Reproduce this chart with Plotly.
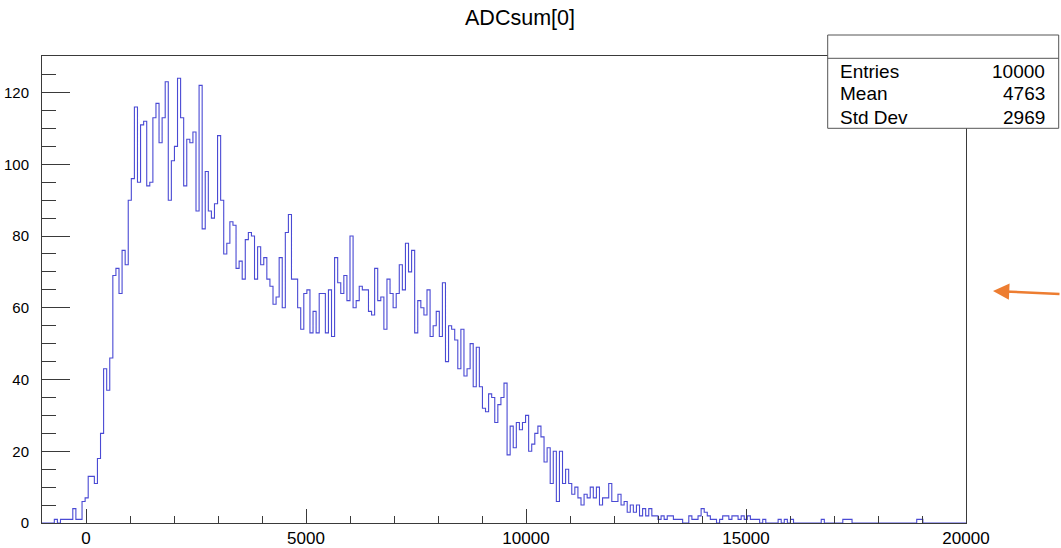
import plotly.graph_objects as go

# ---------------- data ----------------
title_text = "ADCsum[0]"
x_min, x_max, n_bins = -1000, 20000, 300
counts = [
    0, 0, 0, 0, 1, 0, 1, 1, 1, 1,            # 0-9
    4, 1, 1, 6, 7, 13, 13, 11, 18, 25,       # 10-19
    43, 37, 46, 69, 71, 64, 76, 72, 90, 96,  # 20-29
    116, 95, 111, 112, 94, 95, 113, 117, 106, 113,  # 30-39
    123, 90, 101, 105, 124, 113, 94, 107, 106, 109,  # 40-49
    87, 122, 82, 98, 87, 85, 89, 108, 90, 75,  # 50-59
    78, 84, 83, 71, 73, 68, 79, 81, 80, 68,  # 60-69
    77, 72, 74, 68, 66, 61, 63, 74, 60, 81,  # 70-79
    86, 68, 68, 60, 54, 64, 65, 53, 59, 53,  # 80-89
    64, 64, 53, 65, 52, 74, 67, 64, 69, 62,  # 90-99
    80, 60, 62, 66, 65, 65, 59, 58, 71, 62,  # 100-109
    63, 54, 68, 64, 60, 64, 72, 65, 78, 70,  # 110-119
    76, 53, 62, 60, 58, 65, 52, 55, 59, 52,  # 120-129
    67, 45, 55, 54, 51, 43, 54, 41, 43, 50,  # 130-139
    38, 49, 38, 32, 31, 36, 35, 28, 33, 35,  # 140-149
    39, 19, 27, 21, 28, 26, 28, 30, 20, 22,  # 150-159
    25, 27, 24, 17, 21, 11, 20, 6, 20, 11,   # 160-169
    15, 11, 8, 10, 7, 5, 8, 7, 10, 7,        # 170-179
    10, 5, 7, 7, 11, 6, 6, 8, 5, 6,          # 180-189
    3, 5, 3, 5, 2, 4, 2, 4, 2, 2,            # 190-199
    1, 2, 1, 2, 2, 1, 1, 1, 0, 0,            # 200-209
    2, 1, 1, 2, 4, 3, 2, 1, 1, 0,            # 210-219
    1, 2, 2, 1, 2, 2, 1, 2, 1, 2,            # 220-229
    1, 1, 1, 0, 1, 0, 0, 0, 0, 1,            # 230-239
    0, 1, 0, 1, 0, 0, 0, 0, 0, 0,            # 240-249
    0, 0, 0, 1, 0, 0, 0, 0, 0, 0,            # 250-259
    1, 1, 1, 0, 0, 0, 0, 0, 0, 0,            # 260-269
    0, 0, 0, 0, 0, 0, 0, 0, 0, 0,            # 270-279
    0, 0, 0, 0, 1, 1, 0, 0, 0, 0,            # 280-289
    0, 0, 0, 0, 0, 0, 0, 0, 0, 0,            # 290-299
]
stat_names = ["Entries", "Mean", "Std Dev"]
stat_values = ["10000", "4763", "2969"]
y_max = 130.2

# ---------------- figure ----------------
W, H = 1061, 548
ML, MR, MT, MB = 42, 95, 56, 25
PW, PH = W - ML - MR, H - MT - MB


def px(X):
    return (X - ML) / PW


def py(Y):
    return (H - MB - Y) / PH


bw = (x_max - x_min) / n_bins
edges = [x_min + i * bw for i in range(n_bins + 1)]
ys = counts + [counts[-1]]

FONT = "Liberation Sans, Arial, Helvetica, sans-serif"
AX = "#3a3a3a"

fig = go.Figure()
fig.add_trace(go.Scatter(
    x=edges, y=ys, mode="lines",
    line=dict(shape="hv", color="#4a4ad4", width=1.1),
    hoverinfo="skip", showlegend=False,
))

fig.update_layout(
    width=W, height=H,
    margin=dict(l=ML, r=MR, t=MT, b=MB, pad=0, autoexpand=False),
    paper_bgcolor="white", plot_bgcolor="white",
    font=dict(family=FONT, color="black"),
    title=dict(text=title_text, x=520 / W, xanchor="center",
               y=1 - 17 / H, yanchor="middle",
               font=dict(size=21.5, family=FONT, color="black")),
    showlegend=False,
)

fig.update_xaxes(
    range=[x_min, x_max], showgrid=False, zeroline=False, automargin=False,
    showline=True, linecolor=AX, linewidth=1, mirror=True,
    ticks="inside", ticklen=14, tickwidth=1, tickcolor=AX,
    tick0=0, dtick=5000, tickformat="d",
    tickfont=dict(size=17, family=FONT, color="black"),
    minor=dict(ticks="inside", ticklen=7, tickwidth=1, tickcolor=AX,
               tick0=0, dtick=1000, showgrid=False),
)
fig.update_yaxes(
    range=[0, y_max], showgrid=False, zeroline=False, automargin=False,
    showline=True, linecolor=AX, linewidth=1, mirror=True,
    ticks="inside", ticklen=28, tickwidth=1, tickcolor=AX,
    tick0=0, dtick=20, ticklabelstandoff=9,
    tickfont=dict(size=15, family=FONT, color="black"),
    minor=dict(ticks="inside", ticklen=14, tickwidth=1, tickcolor=AX,
               tick0=0, dtick=5, showgrid=False),
)

# stats box
bx0, bx1, by0, bdiv, by1 = 827.7, 1058.7, 35, 58.3, 128.3
fig.add_shape(type="rect", xref="paper", yref="paper",
              x0=px(bx0), x1=px(bx1), y0=py(by1), y1=py(by0),
              line=dict(color="#555555", width=1), fillcolor="white",
              layer="above")
fig.add_shape(type="line", xref="paper", yref="paper",
              x0=px(bx0), x1=px(bx1), y0=py(bdiv), y1=py(bdiv),
              line=dict(color="#555555", width=1), layer="above")
row_y = [71, 94, 117.5]
for name, val, yy in zip(stat_names, stat_values, row_y):
    fig.add_annotation(xref="paper", yref="paper", x=px(838), y=py(yy),
                       text=name, showarrow=False, xanchor="left",
                       yanchor="middle", font=dict(size=19, family=FONT, color="black"))
    fig.add_annotation(xref="paper", yref="paper", x=px(1047), y=py(yy),
                       text=val, showarrow=False, xanchor="right",
                       yanchor="middle", font=dict(size=19, family=FONT, color="black"))

# orange arrow
fig.add_annotation(xref="paper", yref="paper", x=px(993), y=py(291),
                   ax=70, ay=3, text="", showarrow=True,
                   arrowhead=2, arrowsize=1.3, arrowwidth=2.5,
                   arrowcolor="#ED7D31")

fig.write_html("out.html")
